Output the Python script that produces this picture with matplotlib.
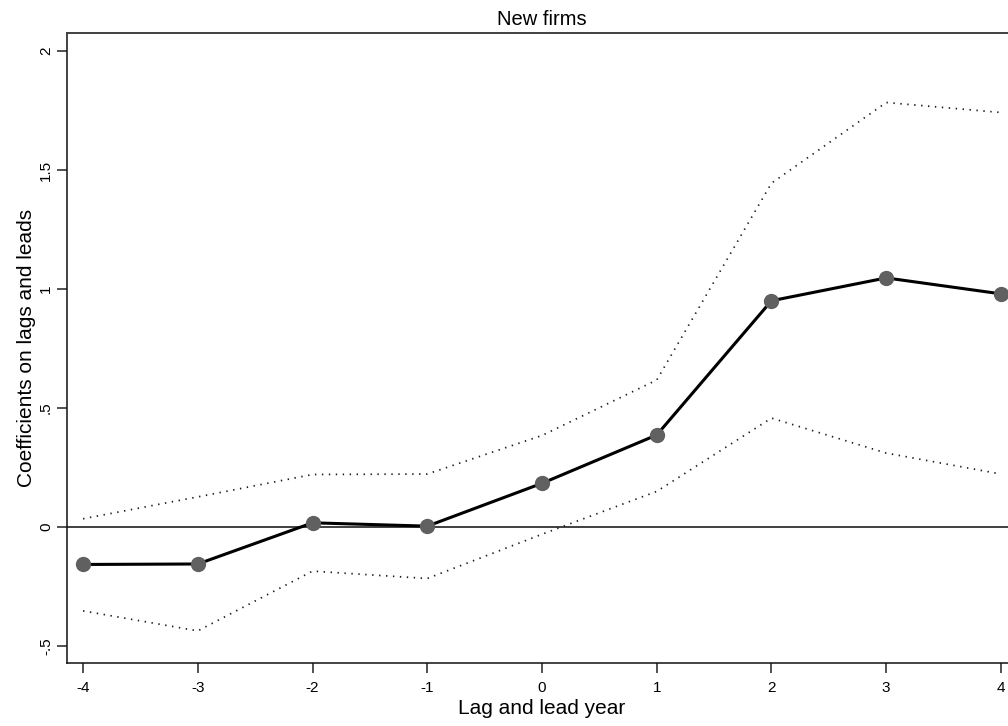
import matplotlib
matplotlib.use("Agg")
import matplotlib.pyplot as plt

# lag / lead years and estimates
years = [-4, -3, -2, -1, 0, 1, 2, 3, 4]
coef = [-0.157, -0.155, 0.018, 0.004, 0.184, 0.387, 0.951, 1.047, 0.980]
upper = [0.035, 0.127, 0.221, 0.223, 0.385, 0.618, 1.445, 1.784, 1.742]
lower = [-0.352, -0.436, -0.185, -0.216, -0.030, 0.150, 0.458, 0.311, 0.223]

yticks = [-0.5, 0, 0.5, 1, 1.5, 2]
ytick_labels = ["-.5", "0", ".5", "1", "1.5", "2"]

plt.rcParams["font.family"] = ["Liberation Sans", "DejaVu Sans"]

fig = plt.figure(figsize=(10.08, 7.26), dpi=100)
ax = fig.add_axes([67 / 1008, 63 / 726, 950 / 1008, 630 / 726])

ax.axhline(0, color="#404040", lw=1.4, zorder=1)
dots = (0, (0.8, 3.2))
ax.plot(years, upper, color="#1a1a1a", lw=1.25, linestyle=dots, zorder=2)
ax.plot(years, lower, color="#1a1a1a", lw=1.25, linestyle=dots, zorder=2)
ax.plot(years, coef, color="black", lw=2.2, marker="o", markersize=10,
        markerfacecolor="#606060", markeredgecolor="#606060", zorder=3)

ax.set_xlim(-4.14, 4.14)
ax.set_ylim(-0.571, 2.076)
ax.set_xticks(years)
ax.set_xticklabels([str(y) for y in years])
ax.set_yticks(yticks)
ax.set_yticklabels(ytick_labels, rotation=90, va="center")

ax.tick_params(axis="both", direction="out", length=7, width=1.1,
               colors="#222222", labelcolor="black", labelsize=11)
ax.tick_params(axis="x", pad=6)
ax.tick_params(axis="y", pad=3)

ax.spines["right"].set_visible(False)
ax.spines["top"].set_color("#404040")
ax.spines["top"].set_linewidth(1.4)
for side in ["left", "bottom"]:
    ax.spines[side].set_color("#111111")
    ax.spines[side].set_linewidth(1.1)

ax.set_title("New firms", fontsize=14.5, pad=6)
ax.set_xlabel("Lag and lead year", fontsize=15, labelpad=3)
ax.set_ylabel("Coefficients on lags and leads", fontsize=15, labelpad=2)

fig.savefig("out.png", dpi=100)
